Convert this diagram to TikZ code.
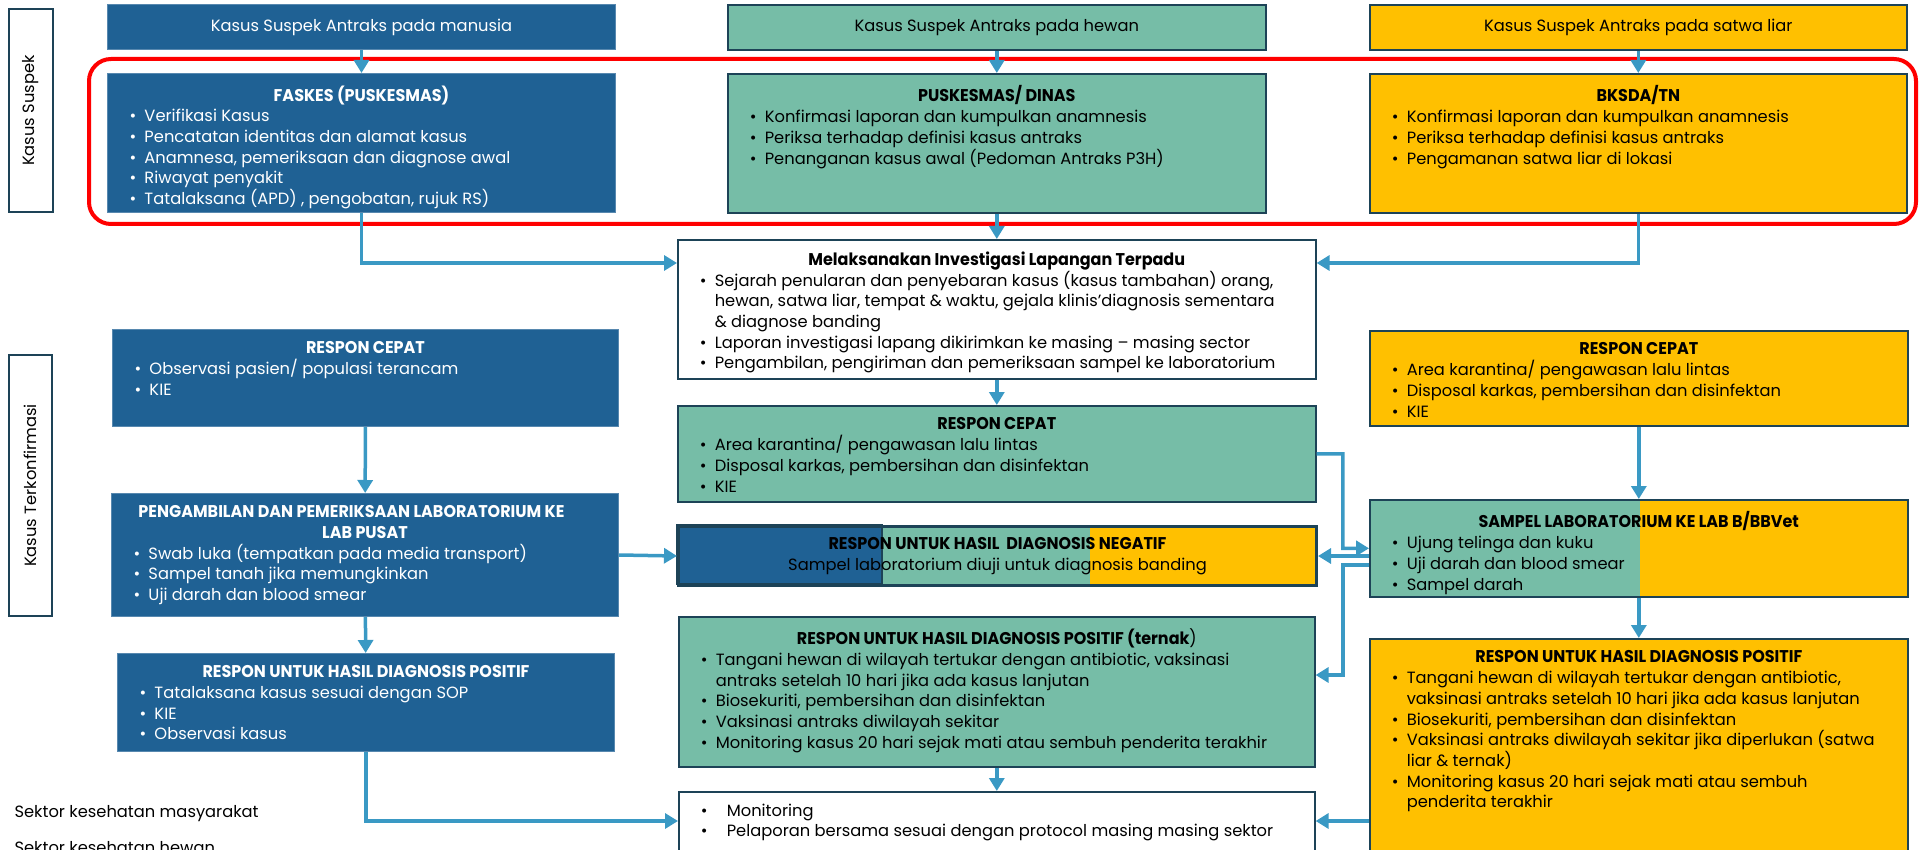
\documentclass[tikz,border=0pt]{standalone}
\usepackage{fontspec}
\setmainfont{Poppins}
\newfontfamily\headfont{Poppins}[FakeStretch=0.94]
\usetikzlibrary{arrows.meta,calc,positioning}

\definecolor{SektorBlue}{HTML}{1F6194}
\definecolor{SektorGreen}{HTML}{76BDA7}
\definecolor{SektorYellow}{HTML}{FFC000}
\definecolor{EdgeNavy}{HTML}{1D4357}
\definecolor{FlowBlue}{HTML}{3A99C4}
\definecolor{FrameRed}{HTML}{FF0000}

\newcommand{\bodyfont}{\fontsize{16.3}{20.7}\selectfont}
\newcommand{\cell}[4][12pt]{\parbox[c][#3pt][t]{#2pt}{\vspace*{#1}\parindent=0pt\leftskip=22pt\rightskip=0pt plus 1fil\parfillskip=0pt plus 1fil #4}}
\newcommand{\ttl}[1]{{\leftskip=0pt plus 1fil\rightskip=0pt plus 1fil\parfillskip=0pt\headfont\bfseries\fontsize{17}{20.7}\selectfont #1\par}}
\newcommand{\itm}[1]{\hangindent=15pt\hangafter=1\noindent\makebox[15pt][l]{\textbullet}#1\par}

\begin{document}
\begin{tikzpicture}[x=1pt,y=-1pt,
  cellbox/.style={anchor=north west,inner sep=0pt,font=\bodyfont,line width=1.6pt,draw=EdgeNavy},
  bluebox/.style={cellbox,fill=SektorBlue,draw=SektorBlue!75!white,line width=1pt,text=white},
  greenbox/.style={cellbox,fill=SektorGreen},
  yellowbox/.style={cellbox,fill=SektorYellow},
  whitebox/.style={cellbox,fill=white},
  headbox/.style={minimum height=45,align=center},
  sidebox/.style={draw=EdgeNavy,line width=2pt,fill=white,rotate=90,font=\bodyfont,inner sep=0pt},
  flowline/.style={draw=FlowBlue,line width=3.5pt,-{Triangle[length=13pt,width=15pt]}}]
  \useasboundingbox (0,0) rectangle (1919,850);
  \clip (0,0) rectangle (1919,850);

  % side labels
  \node[sidebox,minimum width=203,minimum height=44] (kasusSuspek) at (31,110.5) {Kasus Suspek};
  \node[sidebox,minimum width=261,minimum height=43] (kasusKonfirm) at (30.5,485.5) {Kasus Terkonfirmasi};

  % suspect group frame
  \draw[FrameRed,line width=4pt,rounded corners=22pt] (89,59) rectangle (1916,224);

  % top row
  \node[bluebox,headbox,minimum width=508] (hdrHuman) at (107,4) {Kasus Suspek Antraks pada manusia};
  \node[greenbox,headbox,minimum width=538] (hdrAnimal) at (727,4) {Kasus Suspek Antraks pada hewan};
  \node[yellowbox,headbox,minimum width=537] (hdrWild) at (1369,4) {Kasus Suspek Antraks pada satwa liar};

  \node[bluebox] (faskes) at (107,73) {\cell{508}{139}{\ttl{FASKES (PUSKESMAS)}
    \itm{Verifikasi Kasus}
    \itm{Pencatatan identitas dan alamat kasus}
    \itm{Anamnesa, pemeriksaan dan diagnose awal}
    \itm{Riwayat penyakit}
    \itm{Tatalaksana (APD) , pengobatan, rujuk RS)}}};
  \node[greenbox] (dinas) at (727,73) {\cell{538}{139}{\ttl{PUSKESMAS/ DINAS}
    \itm{Konfirmasi laporan dan kumpulkan anamnesis}
    \itm{Periksa terhadap definisi kasus antraks}
    \itm{Penanganan kasus awal (Pedoman Antraks P3H)}}};
  \node[yellowbox] (bksda) at (1369,73) {\cell{537}{139}{\ttl{BKSDA/TN}
    \itm{Konfirmasi laporan dan kumpulkan anamnesis}
    \itm{Periksa terhadap definisi kasus antraks}
    \itm{Pengamanan satwa liar di lokasi}}};

  \node[whitebox] (invest) at (677,239) {\cell{638}{139}{\ttl{Melaksanakan Investigasi Lapangan Terpadu}
    \itm{Sejarah penularan dan penyebaran kasus (kasus tambahan) orang,\newline
      hewan, satwa liar, tempat \& waktu, gejala klinis’diagnosis sementara\newline
      \& diagnose banding}
    \itm{Laporan investigasi lapang dikirimkan ke masing – masing sector}
    \itm{Pengambilan, pengiriman dan pemeriksaan sampel ke laboratorium}}};

  % human health column
  \node[bluebox] (respHuman) at (112,329) {\cell{506}{97}{\ttl{RESPON CEPAT}
    \itm{Observasi pasien/ populasi terancam}
    \itm{KIE}}};
  \node[bluebox] (labHuman) at (111,493) {\cell{507}{123}{\ttl{PENGAMBILAN DAN PEMERIKSAAN LABORATORIUM KE\newline LAB PUSAT}
    \itm{Swab luka (tempatkan pada media transport)}
    \itm{Sampel tanah jika memungkinkan}
    \itm{Uji darah dan blood smear}}};
  \node[bluebox] (posHuman) at (117,653) {\cell{497}{98}{\ttl{RESPON UNTUK HASIL DIAGNOSIS POSITIF}
    \itm{Tatalaksana kasus sesuai dengan SOP}
    \itm{KIE}
    \itm{Observasi kasus}}};

  % livestock column
  \node[greenbox] (respAnimal) at (677,405) {\cell{638}{96}{\ttl{RESPON CEPAT}
    \itm{Area karantina/ pengawasan lalu lintas}
    \itm{Disposal karkas, pembersihan dan disinfektan}
    \itm{KIE}}};
  \fill[SektorBlue] (677,525) rectangle (882,584);
  \fill[SektorGreen] (882,525) rectangle (1090,584);
  \fill[SektorYellow] (1090,525) rectangle (1315,584);
  \draw[EdgeNavy,line width=2.5pt] (677,525) rectangle (882,584);
  \node[cellbox,line width=3pt] (negResult) at (677,525) {\cell[11pt]{638}{59}{\centering
    {\headfont\bfseries\fontsize{17}{20.7}\selectfont RESPON UNTUK HASIL~ DIAGNOSIS NEGATIF}\par
    Sampel laboratorium diuji untuk diagnosis banding}};
  \node[greenbox] (posAnimal) at (678,616) {\cell{636}{150}{\ttl{RESPON UNTUK HASIL DIAGNOSIS POSITIF (ternak\mdseries)}
    \itm{Tangani hewan di wilayah tertukar dengan antibiotic, vaksinasi\newline
      antraks setelah 10 hari jika ada kasus lanjutan}
    \itm{Biosekuriti, pembersihan dan disinfektan}
    \itm{Vaksinasi antraks diwilayah sekitar}
    \itm{Monitoring kasus 20 hari sejak mati atau sembuh penderita terakhir}}};
  \node[whitebox] (monitor) at (678,791) {\cell{636}{100}{
    \noindent\makebox[26pt][l]{\textbullet}Monitoring\par
    \noindent\makebox[26pt][l]{\textbullet}Pelaporan bersama sesuai dengan protocol masing masing sektor\par}};

  % wildlife column
  \node[yellowbox] (respWild) at (1369,330) {\cell{538}{95}{\ttl{RESPON CEPAT}
    \itm{Area karantina/ pengawasan lalu lintas}
    \itm{Disposal karkas, pembersihan dan disinfektan}
    \itm{KIE}}};
  \fill[SektorGreen] (1369,499) rectangle (1640,596);
  \fill[SektorYellow] (1640,499) rectangle (1907,596);
  \node[cellbox] (labWild) at (1369,499) {\cell{538}{97}{\ttl{SAMPEL LABORATORIUM KE LAB B/BBVet}
    \itm{Ujung telinga dan kuku}
    \itm{Uji darah dan blood smear}
    \itm{Sampel darah}}};
  \node[yellowbox] (posWild) at (1369,638) {\cell{538}{250}{\ttl{RESPON UNTUK HASIL DIAGNOSIS POSITIF}
    \itm{Tangani hewan di wilayah tertukar dengan antibiotic,\newline
      vaksinasi antraks setelah 10 hari jika ada kasus lanjutan}
    \itm{Biosekuriti, pembersihan dan disinfektan}
    \itm{Vaksinasi antraks diwilayah sekitar jika diperlukan (satwa\newline liar \& ternak)}
    \itm{Monitoring kasus 20 hari sejak mati atau sembuh\newline penderita terakhir}}};

  % legend
  \node[anchor=base west,font=\bodyfont] (legHuman) at (11,817) {Sektor kesehatan masyarakat};
  \node[anchor=base west,font=\bodyfont] (legAnimal) at (11,853) {Sektor kesehatan hewan};

  % connectors
  \coordinate (invL) at ($(invest.north west)+(0,24)$);
  \coordinate (invR) at ($(invest.north east)+(0,24)$);
  \coordinate (bus) at ($(respAnimal.east)!.5!(respAnimal.east -| labWild.west)$);
  \coordinate (labOut) at ($(labWild.north west)+(0,66)$);
  \coordinate (posIn) at ($(posAnimal.north east)+(0,59)$);
  \coordinate (monL) at ($(monitor.north west)+(0,30)$);
  \coordinate (monR) at ($(monitor.north east)+(0,30)$);

  \draw[flowline] (hdrHuman) -- (faskes);
  \draw[flowline] (hdrAnimal) -- (dinas);
  \draw[flowline] (hdrWild) -- (bksda);
  \draw[flowline] (faskes.south) |- (invL);
  \draw[flowline] (dinas) -- (invest);
  \draw[flowline] (bksda.south) |- (invR);
  \draw[flowline] (invest) -- (respAnimal);
  \draw[flowline] (respHuman) -- (labHuman);
  \draw[flowline] (labHuman.east) -- (negResult.west);
  \draw[flowline] (labHuman) -- (posHuman);
  \draw[flowline] (posHuman.south) |- (monL);
  \draw[flowline] (respAnimal.east) -- (bus) |- (labWild.west);
  \draw[flowline] (labWild.west |- negResult.east) -- (negResult.east);
  \draw[flowline] (labOut) -- (labOut -| bus) |- (posIn);
  \draw[flowline] (posAnimal) -- (monitor);
  \draw[flowline] (respWild) -- (labWild);
  \draw[flowline] (labWild) -- (posWild);
  \draw[flowline] (posWild.north west |- monR) -- (monR);
\end{tikzpicture}
\end{document}
